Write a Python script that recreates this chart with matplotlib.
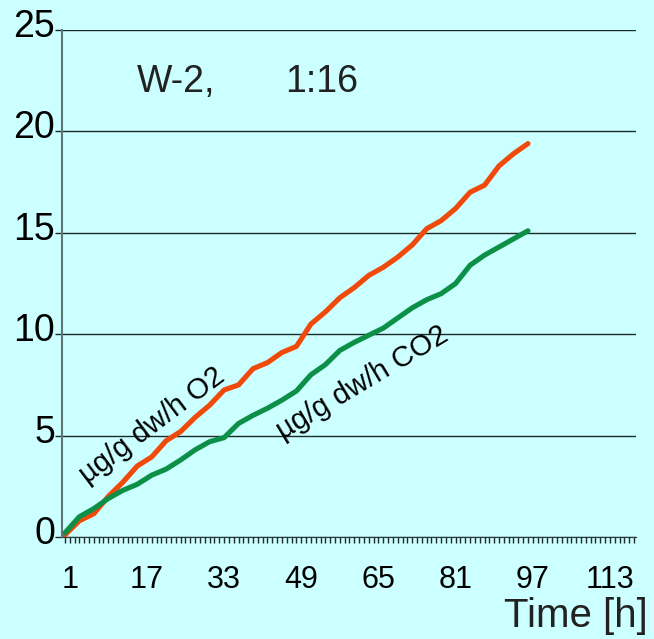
import matplotlib
matplotlib.use('Agg')
from matplotlib import pyplot as plt
from matplotlib.ticker import MultipleLocator
from matplotlib.transforms import ScaledTranslation

# data (hours, ug/g dw/h)
hours = [1, 4, 7, 10, 13, 16, 19, 22, 25, 28, 31, 34, 37, 40, 43, 46, 49,
         52, 55, 58, 61, 64, 67, 70, 73, 76, 79, 82, 85, 88, 91, 94, 97]
o2 = [0.1, 0.8, 1.15, 2.0, 2.7, 3.5, 3.95, 4.75, 5.2, 5.9, 6.5, 7.25, 7.5, 8.3, 8.6, 9.1, 9.4,
      10.5, 11.1, 11.8, 12.3, 12.9, 13.3, 13.8, 14.4, 15.2, 15.6, 16.2, 17.0, 17.35, 18.3, 18.9, 19.4]
co2 = [0.2, 1.0, 1.4, 1.9, 2.3, 2.6, 3.05, 3.35, 3.8, 4.3, 4.7, 4.9, 5.6, 6.0, 6.35, 6.75, 7.2,
       8.0, 8.5, 9.2, 9.6, 9.95, 10.3, 10.8, 11.3, 11.7, 12.0, 12.5, 13.4, 13.9, 14.3, 14.7, 15.1]
xticks = [1, 17, 33, 49, 65, 81, 97, 113]
yticks = [0, 5, 10, 15, 20, 25]

bg = '#ccffff'
plt.rcParams['font.family'] = ['Liberation Sans', 'DejaVu Sans']

fig = plt.figure(figsize = (6.54, 6.39), dpi = 100, facecolor = bg)
ax = fig.add_axes([0.0948, 0.1596, 0.8777, 0.7934], facecolor = bg)

ax.plot(hours, o2, c = '#f04a0a', lw = 3.7, solid_capstyle = 'round', solid_joinstyle = 'round')
ax.plot(hours, co2, c = '#0c9048', lw = 3.7, solid_capstyle = 'round', solid_joinstyle = 'round')

ax.set_xlim(0.4, 119.4)
ax.set_ylim(0, 25)
ax.set_xticks(xticks)
ax.xaxis.set_minor_locator(MultipleLocator(1))
ax.set_yticks(yticks)
ax.grid(axis = 'y', color = '#1a2a2a', lw = 1)
ax.set_axisbelow(True)

for side in ['top', 'right']:
    ax.spines[side].set_visible(False)
ax.spines['left'].set_color('#5e7878')
ax.spines['left'].set_linewidth(1.5)
ax.spines['bottom'].set_color('#2a3a3a')

ax.tick_params(axis = 'x', which = 'both', length = 4, width = 1, color = '#1a2a2a',
               direction = 'out', labelsize = 22, pad = 16)
ax.tick_params(axis = 'y', length = 5, width = 1, color = '#1a2a2a', labelsize = 27, pad = 0)
for lab in ax.get_xticklabels():
    lab.set_transform(lab.get_transform() + ScaledTranslation(0.05, 0, fig.dpi_scale_trans))
for lab in ax.get_yticklabels():
    lab.set_transform(lab.get_transform() + ScaledTranslation(0, 0.07, fig.dpi_scale_trans))

fig.text(0.99, 0.018, 'Time [h]', fontsize = 29, color = '#222222', ha = 'right', va = 'baseline')
ax.text(0.1307, 0.878, 'W-2,', transform = ax.transAxes, fontsize = 27, color = '#222222',
        va = 'baseline')
ax.text(0.3885, 0.878, '1:16', transform = ax.transAxes, fontsize = 27, color = '#222222',
        va = 'baseline')
ax.text(0.157, 0.221, 'µg/g dw/h O2', transform = ax.transAxes, fontsize = 21, rotation = 37,
        ha = 'center', va = 'center', rotation_mode = 'anchor')
ax.text(0.524, 0.304, 'µg/g dw/h CO2', transform = ax.transAxes, fontsize = 21, rotation = 31,
        ha = 'center', va = 'center', rotation_mode = 'anchor')

fig.savefig('out.png', dpi = 100, facecolor = bg)
